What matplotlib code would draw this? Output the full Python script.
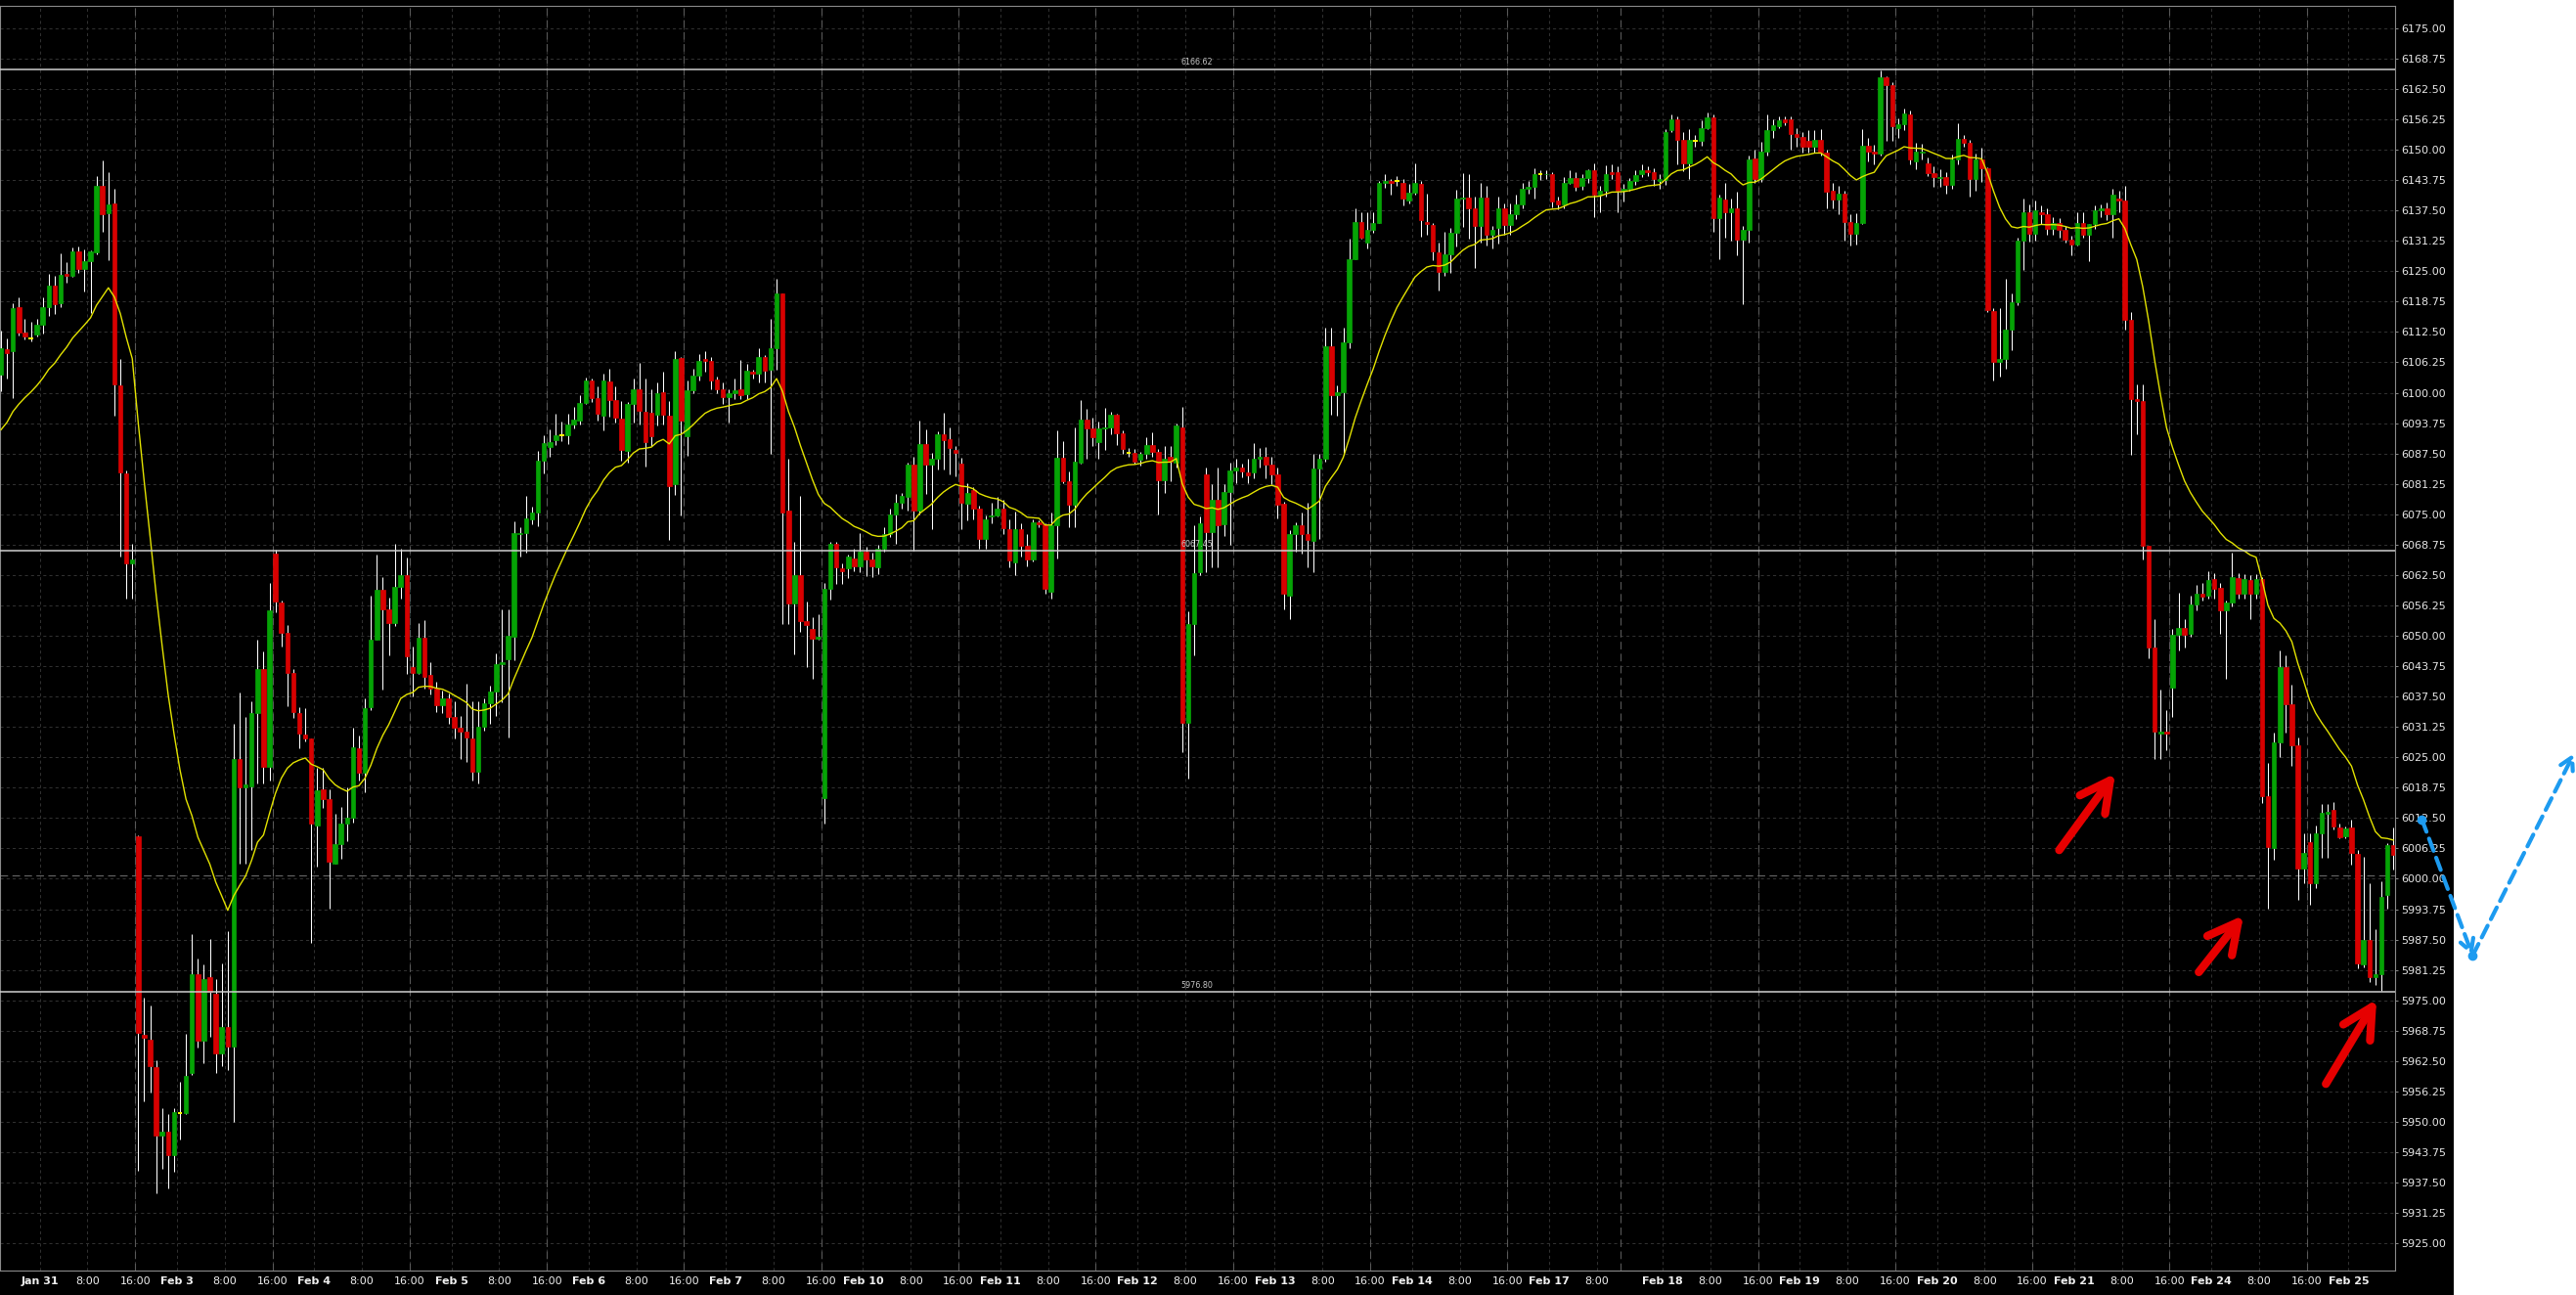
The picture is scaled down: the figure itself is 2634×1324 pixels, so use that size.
import numpy as np
import matplotlib.pyplot as plt
from matplotlib.patches import Rectangle, FancyArrowPatch

# hourly bars, bar 0 = Jan 31 00:00, first bar on screen is -7
first_bar = -7

opens = [
    6103.7, 6109.0, 6108.5, 6117.6, 6112.4, 6111.2, 6112.0, 6113.9, 6117.6, 6122.1,  # -7..2
    6118.4, 6124.5, 6124.1, 6129.0, 6125.5, 6127.0, 6128.8, 6142.6, 6137.0, 6139.0,
    6101.5, 6083.4, 6064.9, 6008.8, 5967.8, 5966.9, 5961.2, 5947.1, 5948.0, 5943.2,
    5951.7, 5951.7, 5960.0, 5980.4, 5966.6, 5979.7, 5976.4, 5964.0, 5969.5, 5965.5,
    6024.6, 6018.9, 6019.1, 6034.2, 6043.2, 6023.1, 6066.9, 6056.8, 6050.6, 6042.3,  # 33..42
    6034.2, 6029.7, 6028.9, 6010.9, 6018.5, 6016.3, 6003.2, 6007.2, 6011.3, 6012.6,
    6026.8, 6021.9, 6035.3, 6049.2, 6059.4, 6055.4, 6052.6, 6060.0, 6062.5, 6043.6,
    6042.3, 6049.6, 6042.0, 6039.2, 6035.7, 6037.1, 6033.2, 6031.1, 6030.2, 6028.9,
    6022.1, 6031.2, 6036.2, 6038.6, 6044.1, 6045.2, 6049.9, 6070.9, 6071.2, 6074.0,  # 73..82
    6075.3, 6086.1, 6088.9, 6090.2, 6091.3, 6091.3, 6093.5, 6094.3, 6097.9, 6102.5,
    6099.0, 6095.3, 6102.3, 6098.6, 6094.7, 6088.0, 6097.7, 6100.8, 6096.0, 6095.8,
    6095.5, 6100.1, 6095.3, 6081.1, 6107.2, 6091.0, 6100.5, 6103.6, 6107.0, 6106.5,
    6102.7, 6100.7, 6099.2, 6099.9, 6100.7, 6099.7, 6104.4, 6104.0, 6107.4, 6104.8,  # 113..122
    6109.2, 6120.4, 6075.7, 6056.7, 6062.5, 6053.1, 6051.5, 6049.4, 6016.5, 6059.6,
    6069.0, 6063.8, 6063.8, 6066.0, 6064.2, 6067.3, 6065.7, 6064.0, 6067.9, 6070.9,
    6075.0, 6077.4, 6078.5, 6085.2, 6075.7, 6089.5, 6085.2, 6086.4, 6091.5, 6090.4,
    6088.2, 6085.4, 6077.2, 6080.0, 6076.1, 6070.0, 6074.5, 6074.7, 6076.2, 6072.0,  # 153..162
    6065.1, 6072.0, 6068.5, 6065.8, 6073.3, 6073.0, 6059.0, 6072.7, 6086.7, 6081.7,
    6077.0, 6085.7, 6094.4, 6092.7, 6089.8, 6092.6, 6092.9, 6095.4, 6091.7, 6087.7,
    6087.7, 6086.2, 6087.4, 6089.3, 6087.9, 6081.9, 6086.8, 6085.7, 6092.9, 6032.0,
    6052.5, 6063.1, 6083.2, 6071.4, 6078.0, 6073.0, 6079.6, 6084.1, 6084.7, 6083.6,  # 193..202
    6083.6, 6086.4, 6086.8, 6085.2, 6083.2, 6077.1, 6058.2, 6071.0, 6072.8, 6070.9,
    6069.6, 6084.5, 6086.4, 6109.5, 6099.6, 6100.1, 6110.4, 6127.4, 6135.1, 6131.0,
    6133.5, 6135.0, 6143.2, 6143.6, 6143.5, 6143.2, 6139.6, 6141.2, 6143.0, 6135.1,
    6134.6, 6128.9, 6124.8, 6128.4, 6133.0, 6139.9, 6140.2, 6137.9, 6134.3, 6140.2,  # 233..242
    6132.5, 6133.9, 6138.0, 6134.6, 6136.8, 6138.7, 6142.0, 6142.3, 6144.9, 6144.9,
    6145.0, 6139.6, 6138.7, 6143.2, 6144.2, 6142.5, 6144.2, 6145.8, 6140.7, 6141.5,
    6145.4, 6145.4, 6141.5, 6142.0, 6143.6, 6145.0, 6145.8, 6145.4, 6143.6, 6143.7,
    6154.0, 6156.3, 6152.1, 6147.3, 6151.9, 6151.9, 6154.5, 6156.7, 6135.9, 6139.8,  # 273..282
    6137.1, 6138.0, 6131.6, 6133.5, 6148.3, 6144.0, 6149.7, 6154.0, 6154.9, 6156.3,
    6156.3, 6153.3, 6152.7, 6151.9, 6150.7, 6152.1, 6149.5, 6141.6, 6139.8, 6141.0,
    6135.2, 6132.8, 6135.0, 6150.9, 6149.7, 6149.2, 6164.9, 6163.3, 6154.5, 6155.2,
    6157.3, 6147.6, 6149.5, 6147.3, 6145.2, 6144.1, 6144.3, 6142.8, 6148.0, 6152.2,  # 313..322
    6151.5, 6144.0, 6148.0, 6146.1, 6116.9, 6106.3, 6107.0, 6113.0, 6118.7, 6131.4,
    6137.1, 6132.8, 6137.1, 6136.8, 6133.8, 6135.0, 6133.5, 6131.6, 6130.4, 6135.0,
    6132.6, 6134.7, 6137.6, 6138.0, 6136.8, 6140.0, 6139.6, 6115.1, 6098.8, 6098.2,
    6068.6, 6047.5, 6029.8, 6030.2, 6039.4, 6050.3, 6051.7, 6050.5, 6056.5, 6058.7,  # 353..362
    6058.3, 6061.6, 6059.9, 6055.3, 6056.8, 6061.9, 6058.7, 6061.4, 6058.7, 6061.6,
    6017.0, 6006.4, 6028.0, 6043.5, 6036.0, 6027.5, 6002.2, 6007.5, 5999.0, 6009.4,
    6013.4, 6014.1, 6010.5, 6008.7, 6010.5, 6005.2, 5982.4, 5987.4, 5979.8, 5980.4,
    5996.7, 6006.9,
]

highs = [
    6112.8, 6111.2, 6118.4, 6119.6, 6115.2, 6114.7, 6115.2, 6119.6, 6124.5, 6124.1,
    6128.7, 6126.8, 6129.8, 6130.0, 6129.5, 6129.3, 6144.5, 6147.8, 6145.3, 6141.9,
    6107.0, 6084.0, 6069.0, 6009.0, 5975.5, 5973.9, 5962.6, 5952.9, 5951.5, 5952.9,
    5958.2, 5968.1, 5988.6, 5983.6, 5982.4, 5987.7, 5979.4, 5982.6, 5989.2, 6031.8,
    6038.3, 6033.2, 6036.5, 6049.2, 6046.8, 6060.9, 6067.7, 6057.2, 6052.2, 6043.2,
    6035.3, 6035.1, 6028.9, 6022.8, 6022.8, 6018.5, 6013.4, 6014.8, 6018.9, 6031.1,
    6029.5, 6037.1, 6058.2, 6066.7, 6062.1, 6057.9, 6069.0, 6068.0, 6066.2, 6047.7,
    6052.6, 6053.3, 6044.5, 6040.6, 6038.8, 6038.1, 6036.6, 6033.5, 6040.2, 6036.6,
    6036.6, 6037.2, 6039.7, 6046.4, 6055.4, 6055.4, 6073.6, 6072.4, 6078.7, 6076.6,
    6088.1, 6091.3, 6092.5, 6095.6, 6094.0, 6095.6, 6097.1, 6099.5, 6103.2, 6102.9,
    6101.4, 6104.0, 6105.0, 6101.4, 6098.3, 6098.1, 6102.9, 6106.2, 6103.0, 6100.8,
    6102.1, 6104.4, 6098.4, 6108.5, 6107.4, 6102.5, 6105.0, 6108.0, 6108.5, 6107.4,
    6103.3, 6102.1, 6100.8, 6102.9, 6106.8, 6105.9, 6104.7, 6109.2, 6107.7, 6115.2,
    6123.4, 6120.4, 6086.5, 6069.4, 6078.7, 6057.1, 6053.9, 6054.5, 6060.8, 6069.4,
    6069.4, 6064.9, 6066.8, 6068.0, 6071.2, 6068.3, 6067.1, 6068.8, 6072.4, 6076.2,
    6079.1, 6079.4, 6085.6, 6086.9, 6094.3, 6092.5, 6087.6, 6092.1, 6095.8, 6092.8,
    6089.1, 6086.7, 6081.4, 6080.6, 6076.8, 6074.7, 6077.4, 6078.5, 6077.9, 6073.9,
    6075.5, 6073.1, 6070.9, 6073.9, 6073.7, 6073.2, 6075.3, 6092.3, 6090.1, 6083.9,
    6092.8, 6098.5, 6096.7, 6094.9, 6094.1, 6096.9, 6096.0, 6095.6, 6092.2, 6088.6,
    6088.4, 6087.9, 6090.8, 6091.8, 6088.4, 6089.1, 6089.0, 6093.6, 6097.0, 6055.0,
    6072.8, 6074.6, 6084.7, 6081.1, 6084.7, 6081.1, 6085.7, 6086.4, 6085.4, 6086.4,
    6089.7, 6088.6, 6088.8, 6086.9, 6084.7, 6077.6, 6071.7, 6073.3, 6075.3, 6077.3,
    6087.5, 6087.5, 6113.4, 6113.4, 6101.5, 6113.4, 6131.7, 6138.0, 6137.1, 6137.1,
    6137.1, 6143.6, 6145.0, 6144.0, 6144.5, 6144.0, 6143.0, 6147.2, 6143.5, 6140.9,
    6135.0, 6131.0, 6133.2, 6133.9, 6141.8, 6145.2, 6145.0, 6140.4, 6143.2, 6142.5,
    6134.4, 6140.4, 6139.0, 6138.9, 6140.7, 6143.2, 6143.5, 6146.1, 6145.8, 6145.8,
    6145.4, 6140.4, 6144.3, 6145.7, 6145.4, 6145.0, 6146.0, 6147.2, 6142.5, 6146.8,
    6147.0, 6146.5, 6143.0, 6144.2, 6145.8, 6147.0, 6146.5, 6146.1, 6145.0, 6154.3,
    6157.3, 6156.9, 6153.7, 6154.3, 6153.0, 6156.1, 6157.7, 6157.3, 6140.8, 6143.2,
    6140.0, 6141.3, 6134.4, 6148.9, 6150.1, 6151.6, 6157.3, 6156.3, 6156.9, 6156.9,
    6156.9, 6154.5, 6153.7, 6154.0, 6154.0, 6154.3, 6150.1, 6143.2, 6142.5, 6141.6,
    6136.8, 6137.0, 6154.3, 6152.5, 6151.0, 6166.3, 6165.2, 6164.0, 6156.5, 6158.5,
    6158.0, 6151.5, 6151.3, 6148.5, 6146.6, 6146.0, 6145.3, 6149.0, 6155.5, 6153.1,
    6152.1, 6149.2, 6150.4, 6146.4, 6117.5, 6117.5, 6123.5, 6120.5, 6132.0, 6140.0,
    6138.8, 6139.5, 6138.6, 6138.0, 6136.2, 6136.0, 6134.4, 6132.3, 6137.1, 6137.1,
    6134.4, 6138.6, 6138.8, 6139.2, 6142.0, 6141.6, 6142.5, 6116.7, 6101.8, 6101.8,
    6068.6, 6053.5, 6039.0, 6034.8, 6051.5, 6058.9, 6053.5, 6058.3, 6060.4, 6060.8,
    6063.2, 6062.8, 6060.8, 6057.2, 6067.1, 6062.8, 6062.6, 6062.4, 6062.6, 6062.0,
    6023.9, 6030.0, 6047.0, 6046.0, 6040.0, 6029.0, 6009.4, 6009.4, 6011.0, 6015.4,
    6015.4, 6015.8, 6011.4, 6010.8, 6012.1, 6006.0, 6004.5, 5999.0, 5989.7, 5999.5,
    6007.4, 6010.6,
]

lows = [
    6100.3, 6103.0, 6099.0, 6111.7, 6111.0, 6110.5, 6111.5, 6112.2, 6115.8, 6116.3,
    6117.6, 6122.6, 6123.8, 6124.6, 6120.9, 6116.4, 6128.5, 6133.2, 6127.3, 6095.3,
    6066.4, 6057.7, 6057.7, 5940.0, 5954.3, 5956.1, 5935.3, 5940.4, 5936.3, 5939.7,
    5946.4, 5951.5, 5959.6, 5965.2, 5962.1, 5967.4, 5960.0, 5961.4, 5960.7, 5949.9,
    6003.2, 6003.2, 6006.0, 6019.7, 6019.7, 6020.3, 6054.9, 6047.7, 6035.5, 6033.0,
    6026.8, 6028.2, 5986.8, 6002.5, 6014.5, 5993.8, 6003.2, 6004.1, 6007.8, 6011.5,
    6020.3, 6017.8, 6034.8, 6049.2, 6039.0, 6046.0, 6052.0, 6057.7, 6042.2, 6037.6,
    6042.2, 6039.2, 6037.9, 6034.4, 6034.2, 6031.9, 6028.9, 6024.6, 6024.0, 6020.3,
    6019.7, 6030.5, 6031.9, 6033.5, 6036.3, 6029.1, 6045.0, 6066.3, 6067.1, 6073.0,
    6072.6, 6083.5, 6086.9, 6089.3, 6090.1, 6089.5, 6092.6, 6093.4, 6097.7, 6098.0,
    6094.3, 6092.3, 6095.1, 6093.8, 6086.1, 6085.6, 6093.8, 6093.4, 6084.9, 6089.1,
    6093.2, 6093.4, 6069.8, 6078.9, 6074.7, 6087.1, 6099.9, 6102.5, 6104.4, 6100.8,
    6099.9, 6097.7, 6093.8, 6098.8, 6098.8, 6098.8, 6102.9, 6102.1, 6102.1, 6087.4,
    6104.8, 6052.4, 6052.4, 6046.1, 6050.8, 6043.5, 6041.1, 6049.1, 6011.3, 6057.5,
    6060.6, 6060.6, 6061.8, 6063.3, 6063.1, 6062.3, 6062.1, 6062.7, 6067.3, 6070.3,
    6069.0, 6076.1, 6075.7, 6067.5, 6075.0, 6079.1, 6072.0, 6084.3, 6084.3, 6083.2,
    6082.8, 6072.0, 6073.7, 6074.0, 6067.9, 6067.9, 6073.2, 6074.5, 6071.0, 6064.0,
    6062.5, 6066.4, 6064.3, 6065.3, 6072.4, 6058.6, 6057.6, 6066.0, 6081.3, 6072.4,
    6072.4, 6085.4, 6086.4, 6089.0, 6086.4, 6088.3, 6091.5, 6089.3, 6087.4, 6086.8,
    6085.4, 6085.0, 6086.5, 6086.8, 6074.9, 6079.3, 6081.8, 6084.7, 6026.0, 6020.6,
    6046.0, 6062.4, 6063.1, 6064.0, 6064.0, 6070.6, 6068.8, 6081.4, 6082.6, 6081.4,
    6082.5, 6084.7, 6082.5, 6081.1, 6074.2, 6055.5, 6053.4, 6067.4, 6067.0, 6064.0,
    6063.1, 6069.9, 6085.9, 6095.4, 6095.3, 6087.2, 6109.1, 6127.4, 6131.7, 6129.7,
    6133.0, 6135.0, 6142.2, 6140.7, 6142.5, 6138.6, 6138.9, 6140.7, 6132.2, 6132.5,
    6127.2, 6121.0, 6124.1, 6124.6, 6130.0, 6134.1, 6131.7, 6125.6, 6130.8, 6130.3,
    6129.6, 6130.7, 6132.5, 6132.5, 6135.7, 6137.9, 6141.0, 6140.0, 6143.8, 6143.9,
    6138.2, 6137.7, 6137.9, 6142.9, 6141.5, 6141.8, 6143.2, 6136.1, 6137.1, 6140.4,
    6144.0, 6137.2, 6139.4, 6141.5, 6142.7, 6144.4, 6144.5, 6142.5, 6142.0, 6142.8,
    6153.7, 6147.0, 6145.6, 6144.0, 6150.7, 6150.9, 6154.3, 6133.2, 6127.5, 6132.0,
    6131.4, 6128.3, 6118.3, 6130.8, 6143.2, 6143.4, 6148.9, 6152.5, 6154.5, 6155.0,
    6150.1, 6150.7, 6149.5, 6149.5, 6149.5, 6148.9, 6138.0, 6138.0, 6136.8, 6131.4,
    6130.2, 6130.4, 6134.7, 6147.6, 6146.9, 6148.9, 6151.9, 6151.9, 6152.4, 6154.0,
    6147.0, 6146.0, 6148.0, 6144.6, 6142.3, 6142.4, 6141.0, 6141.9, 6147.0, 6150.7,
    6140.4, 6141.5, 6143.4, 6116.6, 6102.6, 6103.4, 6105.0, 6108.8, 6118.1, 6125.3,
    6131.1, 6131.4, 6134.7, 6132.6, 6132.6, 6131.9, 6130.8, 6128.3, 6130.2, 6131.9,
    6127.1, 6133.8, 6136.2, 6135.6, 6132.0, 6137.1, 6113.0, 6087.3, 6091.5, 6065.6,
    6045.4, 6024.6, 6024.6, 6026.4, 6033.3, 6046.9, 6047.5, 6049.9, 6055.3, 6057.2,
    6057.7, 6057.7, 6050.5, 6041.1, 6056.0, 6057.7, 6057.7, 6053.5, 6057.7, 6015.5,
    5993.8, 6004.0, 6025.0, 6030.0, 6023.2, 5995.7, 5999.0, 5994.6, 5998.0, 6004.4,
    6004.4, 6010.1, 6008.4, 6008.4, 6002.9, 5981.6, 5981.7, 5978.7, 5978.2, 5977.0,
    5993.8, 6002.0,
]

closes = [
    6109.2, 6108.2, 6117.4, 6112.3, 6111.5, 6111.2, 6113.9, 6117.6, 6122.1, 6118.2,
    6124.3, 6124.1, 6129.0, 6125.5, 6127.0, 6129.0, 6142.6, 6136.8, 6138.8, 6101.8,
    6083.7, 6064.9, 6065.6, 5968.3, 5967.2, 5961.4, 5947.1, 5948.0, 5943.2, 5951.9,
    5951.7, 5959.5, 5980.4, 5966.6, 5979.4, 5976.7, 5964.0, 5969.5, 5965.5, 6024.6,
    6018.9, 6019.4, 6034.2, 6043.2, 6023.1, 6055.2, 6057.0, 6050.6, 6042.3, 6034.3,
    6029.8, 6028.9, 6011.4, 6018.2, 6016.4, 6003.5, 6007.2, 6011.3, 6012.6, 6027.0,
    6021.9, 6035.1, 6049.2, 6059.4, 6055.4, 6052.6, 6060.0, 6062.5, 6045.7, 6042.3,
    6049.6, 6041.5, 6039.2, 6035.7, 6037.1, 6033.2, 6031.1, 6030.2, 6029.1, 6022.1,
    6031.2, 6036.2, 6038.6, 6044.1, 6044.6, 6050.1, 6071.1, 6071.2, 6074.2, 6075.3,
    6086.1, 6089.6, 6089.9, 6091.2, 6091.3, 6093.5, 6094.5, 6097.9, 6102.5, 6099.0,
    6095.7, 6102.5, 6098.6, 6094.9, 6088.2, 6097.7, 6100.8, 6096.2, 6089.9, 6091.1,
    6099.9, 6095.5, 6080.7, 6107.0, 6094.3, 6100.5, 6103.6, 6106.6, 6106.5, 6102.5,
    6100.8, 6099.2, 6099.9, 6100.5, 6099.5, 6104.5, 6104.0, 6107.4, 6104.5, 6109.2,
    6120.4, 6075.3, 6056.7, 6062.5, 6053.0, 6052.3, 6049.3, 6049.9, 6059.6, 6069.0,
    6064.0, 6063.3, 6066.3, 6064.2, 6067.3, 6065.7, 6064.2, 6067.9, 6070.9, 6075.0,
    6077.4, 6078.7, 6085.2, 6075.7, 6089.5, 6085.2, 6086.4, 6091.5, 6090.2, 6088.6,
    6087.6, 6077.4, 6079.4, 6076.2, 6070.0, 6074.0, 6074.7, 6076.2, 6072.2, 6065.5,
    6072.0, 6068.6, 6065.8, 6073.3, 6073.0, 6059.6, 6072.7, 6086.7, 6081.7, 6077.0,
    6085.8, 6094.4, 6092.6, 6090.8, 6092.6, 6092.9, 6095.4, 6091.7, 6088.4, 6087.7,
    6085.9, 6087.4, 6089.3, 6087.9, 6082.1, 6086.4, 6085.9, 6093.3, 6032.0, 6052.5,
    6062.9, 6073.2, 6071.4, 6078.0, 6072.8, 6079.6, 6084.1, 6084.7, 6083.8, 6083.1,
    6086.4, 6086.8, 6085.2, 6083.2, 6077.0, 6058.6, 6071.0, 6072.8, 6070.9, 6069.7,
    6084.5, 6086.4, 6109.5, 6099.6, 6100.1, 6110.4, 6127.4, 6135.1, 6131.9, 6133.5,
    6135.0, 6143.2, 6143.6, 6143.2, 6143.5, 6139.9, 6141.2, 6143.2, 6135.6, 6134.8,
    6129.1, 6124.8, 6128.4, 6133.0, 6139.9, 6140.2, 6137.9, 6134.3, 6140.2, 6132.5,
    6133.5, 6137.9, 6134.6, 6136.8, 6138.7, 6142.0, 6142.3, 6144.9, 6144.9, 6145.0,
    6139.3, 6138.7, 6143.2, 6144.2, 6142.3, 6144.2, 6145.8, 6140.7, 6141.6, 6145.0,
    6145.0, 6141.6, 6142.0, 6143.6, 6144.8, 6145.8, 6145.4, 6144.0, 6144.0, 6153.7,
    6156.3, 6152.1, 6147.3, 6152.1, 6151.9, 6154.5, 6156.7, 6135.9, 6140.2, 6137.1,
    6138.0, 6131.6, 6133.5, 6148.0, 6144.0, 6149.7, 6154.0, 6155.1, 6156.1, 6155.7,
    6153.3, 6152.7, 6150.7, 6150.7, 6152.1, 6149.5, 6141.3, 6139.8, 6141.0, 6135.2,
    6132.8, 6135.0, 6150.9, 6149.7, 6149.2, 6164.9, 6163.3, 6154.9, 6155.2, 6157.5,
    6148.0, 6149.7, 6149.7, 6145.2, 6144.3, 6144.3, 6142.8, 6148.0, 6152.2, 6151.5,
    6144.0, 6148.0, 6146.1, 6117.1, 6106.3, 6107.0, 6113.0, 6118.7, 6131.4, 6137.1,
    6132.8, 6137.6, 6136.8, 6133.8, 6135.0, 6133.5, 6131.6, 6130.4, 6135.0, 6132.6,
    6134.7, 6137.6, 6138.0, 6136.8, 6140.8, 6139.6, 6115.1, 6098.8, 6098.2, 6068.6,
    6047.5, 6030.2, 6030.2, 6029.8, 6050.3, 6051.7, 6050.3, 6056.5, 6058.7, 6058.0,
    6061.4, 6059.6, 6055.3, 6056.8, 6062.1, 6058.7, 6061.6, 6058.7, 6061.6, 6017.0,
    6006.5, 6028.0, 6043.5, 6036.0, 6027.5, 6002.2, 6005.3, 5999.0, 6009.4, 6013.6,
    6013.8, 6010.7, 6008.6, 6010.3, 6005.4, 5982.6, 5987.4, 5979.8, 5980.4, 5996.3,
    6006.9, 6004.9,
]

# yellow moving average: exponential, 20 bars, value read at first bar
ma_first = 6092.4
ma_period = 20

day_names = ['Jan 31', 'Feb 3', 'Feb 4', 'Feb 5', 'Feb 6', 'Feb 7', 'Feb 10', 'Feb 11',
             'Feb 12', 'Feb 13', 'Feb 14', 'Feb 17', 'Feb 18', 'Feb 19', 'Feb 20',
             'Feb 21', 'Feb 24', 'Feb 25']
day_start = [0, 23, 46, 69, 92, 115, 138, 161, 184, 207, 230, 253, 272, 295, 318, 341, 364, 387]
session_breaks = [16, 39, 62, 85, 108, 131, 154, 177, 200, 223, 246, 265, 288, 311, 334, 357, 380]

levels = [6166.62, 6067.45, 5976.80]
bid_line = 6000.6
price_ticks = np.arange(5925.0, 6175.01, 6.25)

# hand-drawn arrows (bar, price)
red_arrows = [((338.0, 6005.9), (347.4, 6021.7)),
              ((361.4, 5980.8), (368.9, 5992.5)),
              ((382.7, 5957.8), (391.2, 5975.2))]
blue_path = [(398.8, 6012.2), (407.3, 5984.2), (424.3, 6025.8)]


o = np.array(opens)
c = np.array(closes)
h = np.maximum(np.array(highs), np.maximum(o, c))
l = np.minimum(np.array(lows), np.minimum(o, c))
x = np.arange(first_bar, first_bar + len(c))

alpha = 2.0 / (ma_period + 1)
ma = [ma_first]
for v in c[1:]:
    ma.append(ma[-1] + alpha * (v - ma[-1]))

W, H = 2634, 1324
fig = plt.figure(figsize=(W / 100, H / 100), dpi=100, facecolor='white')
fig.add_artist(Rectangle((0, 0), 2509 / W, 1, transform=fig.transFigure,
                         facecolor='black', edgecolor='none', zorder=-5))
ax = fig.add_axes([0, 1 - 1299 / H, 2449 / W, 1293 / H])
ax.set_facecolor('black')
ax.set_xlim(-7.17, 394.3)
ax.set_ylim(5919.4, 6179.6)

# x labels at day starts, 8:00 and 16:00
tick_pos, tick_lab, tick_bold = [], [], []
ends = day_start[1:] + [10**6]
for name, s, e in zip(day_names, day_start, ends):
    tick_pos.append(s - 0.5); tick_lab.append(name); tick_bold.append(True)
    for hr in (8, 16):
        p = s + hr
        if e - p >= 5 and p - 0.5 < 394.3:
            tick_pos.append(p - 0.5); tick_lab.append(f'{hr}:00'); tick_bold.append(False)
ax.set_xticks(tick_pos)
ax.set_xticklabels(tick_lab)
for t, b in zip(ax.get_xticklabels(), tick_bold):
    if b:
        t.set_fontweight('bold')

ax.set_yticks(price_ticks)
ax.set_yticklabels([f'{p:.2f}' for p in price_ticks])
ax.yaxis.tick_right()
ax.tick_params(axis='y', direction='out', length=2.5, width=0.7, color='#8c8c8c',
               labelcolor='#e8e8e8', labelsize=8, pad=2)
ax.tick_params(axis='x', length=0, labelcolor='#f0f0f0', labelsize=8, pad=4.5)
ax.set_axisbelow(True)
ax.grid(True, color='#303030', linestyle=(0, (3, 3)), linewidth=0.75)
for sp in ax.spines.values():
    sp.set_color('#8a8a8a')
    sp.set_linewidth(0.8)

for b in session_breaks:
    ax.axvline(b - 0.5, color='#585858', linewidth=0.8, linestyle=(0, (7, 4)), zorder=1)
ax.axhline(bid_line, color='#666666', linewidth=0.8, linestyle=(0, (7, 4)), zorder=1)

# candles
up = c > o
dn = c < o
dj = c == o
ax.vlines(x, l, h, color='white', linewidth=0.75, zorder=2)
ax.bar(x[up], (c - o)[up], bottom=o[up], width=0.74, color='#05a305',
       edgecolor='#05a305', linewidth=0.5, zorder=3)
ax.bar(x[dn], (o - c)[dn], bottom=c[dn], width=0.74, color='#d80000',
       edgecolor='#d80000', linewidth=0.5, zorder=3)
ax.hlines(c[dj], x[dj] - 0.37, x[dj] + 0.37, color='#ffff00', linewidth=1.4, zorder=3)

ax.plot(x, ma, color='#e3e300', linewidth=1.0, zorder=4)

for lv in levels:
    ax.axhline(lv, color='#cfcfcf', linewidth=1.1, zorder=5)
    ax.text(193.5, lv + 0.45, f'{lv:.2f}', ha='center', va='bottom',
            fontsize=5.8, color='#c4c4c4', zorder=5)

for tail, tip in red_arrows:
    ax.add_patch(FancyArrowPatch(tail, tip, arrowstyle='->,head_length=22,head_width=11.5',
                                 mutation_scale=1, linewidth=6, color='#e60000',
                                 capstyle='round', joinstyle='round',
                                 shrinkA=0, shrinkB=0, zorder=7, clip_on=False))

for a, b in zip(blue_path[:-1], blue_path[1:]):
    ax.add_patch(FancyArrowPatch(a, b, arrowstyle='->,head_length=9,head_width=5',
                                 mutation_scale=1, linewidth=3, color='#1d9bf0',
                                 linestyle=(0, (3.2, 1.8)), shrinkA=0, shrinkB=0,
                                 zorder=7, clip_on=False))
ax.plot([blue_path[0][0], blue_path[1][0]], [blue_path[0][1], blue_path[1][1]], 'o',
        markersize=6, color='#1d9bf0', linestyle='none', zorder=7, clip_on=False)

fig.savefig('out.png', dpi=100, facecolor='white')
